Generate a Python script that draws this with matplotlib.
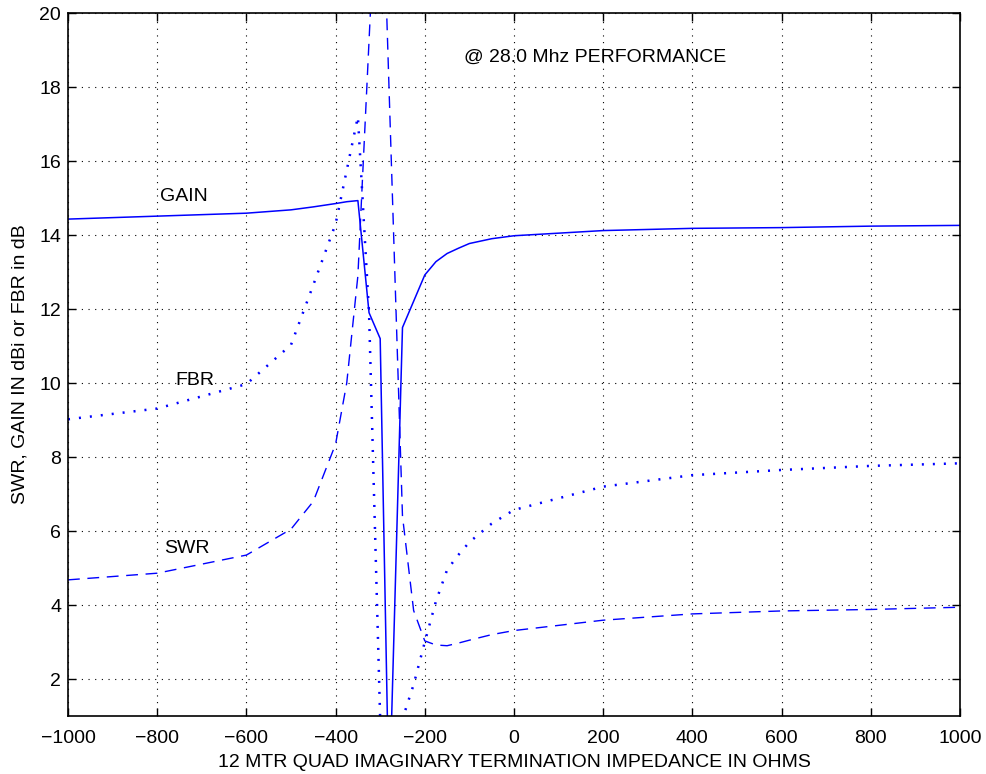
import matplotlib
matplotlib.use('Agg')
import matplotlib.pyplot as plt
import numpy as np

plt.rcParams['font.family'] = ['Liberation Sans', 'DejaVu Sans']

# 虚数終端インピーダンス (Ω)
x_ohms = [-1000, -800, -600, -500, -450, -400, -375, -350, -325, -300, -280,
          -250, -225, -200, -175, -150, -125, -100, -50, 0,
          200, 400, 600, 800, 1000]

# 利得 (dBi)
gain = [14.43, 14.51, 14.59, 14.68, 14.76, 14.85, 14.90, 14.93, 11.90, 11.20, -1.5,
        11.50, 12.21, 12.92, 13.28, 13.50, 13.64, 13.77, 13.90, 13.98,
        14.12, 14.18, 14.20, 14.24, 14.26]

# 前後比 (dB)
fbr = [9.02, 9.31, 9.97, 11.03, 12.65, 14.30, 15.75, 17.20, 11.90, 0.90, -1.5,
       0.92, 1.85, 3.00, 4.10, 4.95, 5.35, 5.70, 6.20, 6.57,
       7.20, 7.51, 7.65, 7.76, 7.83]

# SWR
swr = [4.68, 4.86, 5.35, 6.05, 6.80, 8.35, 10.00, 12.90, 19.25, 25.60, 17.90,
       6.40, 3.85, 3.03, 2.92, 2.90, 2.97, 3.05, 3.20, 3.31,
       3.59, 3.76, 3.84, 3.88, 3.94]

fs = 14

fig = plt.figure(figsize=(9.87, 7.74), dpi=100)
ax = fig.add_axes([0.0689, 0.0749, 0.9037, 0.9083])

ax.plot(x_ohms, gain, color='blue', lw=1.1, linestyle='-')
ax.plot(x_ohms, fbr, color='blue', lw=1.8, linestyle=(0, (0.8, 3.6)))
ax.plot(x_ohms, swr, color='blue', lw=1.0, linestyle=(0, (8.5, 5.5)))

ax.set_xlim(-1000, 1000)
ax.set_ylim(1, 20)
ax.set_xticks(np.arange(-1000, 1001, 200))
ax.set_yticks(np.arange(2, 21, 2))

ax.grid(True, color='black', linestyle=(0, (1, 5)), lw=0.8)
ax.tick_params(direction='in', length=6, width=1, top=True, right=True,
               labelsize=fs, colors='black')
ax.tick_params(axis='x', pad=10)
ax.tick_params(axis='y', pad=5)
for sp in ax.spines.values():
    sp.set_linewidth(1.2)

ax.set_xlabel('12 MTR QUAD IMAGINARY TERMINATION IMPEDANCE IN OHMS', fontsize=fs, labelpad=5)
ax.set_ylabel('SWR, GAIN IN dBi or FBR in dB', fontsize=fs, labelpad=8)

# 曲線ラベル
ax.text(-740, 15.05, 'GAIN', fontsize=fs, ha='center', va='center')
ax.text(-715, 10.08, 'FBR', fontsize=fs, ha='center', va='center')
ax.text(-733, 5.54, 'SWR', fontsize=fs, ha='center', va='center')
ax.text(182, 18.8, '@ 28.0 Mhz PERFORMANCE', fontsize=fs, ha='center', va='center')

fig.savefig('out.png', dpi=100)
